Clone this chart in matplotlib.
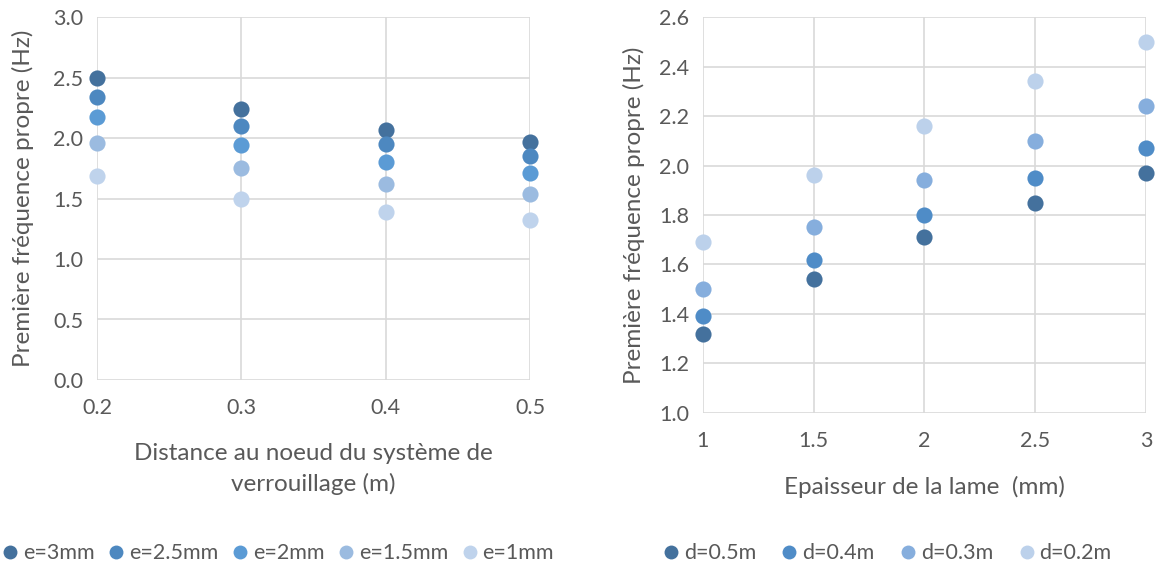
import numpy as np
import matplotlib.pyplot as plt
from matplotlib.lines import Line2D

plt.rcParams['font.family'] = ['Lato', 'DejaVu Sans']

# left chart: frequency vs distance, one series per thickness
dist = [0.2, 0.3, 0.4, 0.5]
e_labels = ['e=3mm', 'e=2.5mm', 'e=2mm', 'e=1.5mm', 'e=1mm']
e_3 = [2.50, 2.24, 2.07, 1.97]
e_25 = [2.34, 2.10, 1.95, 1.85]
e_2 = [2.17, 1.94, 1.80, 1.71]
e_15 = [1.96, 1.75, 1.62, 1.54]
e_1 = [1.69, 1.50, 1.39, 1.32]

# right chart: frequency vs thickness, one series per distance
thick = [1, 1.5, 2, 2.5, 3]
d_labels = ['d=0.5m', 'd=0.4m', 'd=0.3m', 'd=0.2m']
d_05 = [1.32, 1.54, 1.71, 1.85, 1.97]
d_04 = [1.39, 1.62, 1.80, 1.95, 2.07]
d_03 = [1.50, 1.75, 1.94, 2.10, 2.24]
d_02 = [1.69, 1.96, 2.16, 2.34, 2.50]

e_colors = ['#44719d', '#4d88c0', '#5b9bd5', '#9bbbe0', '#bfd3ec']
d_colors = ['#44719d', '#4f8cc7', '#86aedd', '#bcd1eb']

txt = '#595959'
grid = '#d9d9d9'

fig = plt.figure(figsize=(11.58, 5.68), dpi=100)
ax1 = fig.add_axes([0.0838, 0.331, 0.3739, 0.639])
ax2 = fig.add_axes([0.607, 0.273, 0.3826, 0.697])


def style(ax):
    for s in ax.spines.values():
        s.set_visible(False)
    ax.grid(True, color=grid, linewidth=1.2)
    ax.set_axisbelow(True)
    ax.tick_params(length=0, colors=txt, labelsize=15.5)
    ax.tick_params(axis='x', pad=13)
    ax.tick_params(axis='y', pad=10)


for ys, c in zip([e_3, e_25, e_2, e_15, e_1], e_colors):
    ax1.scatter(dist, ys, s=135, color=c, clip_on=False, zorder=3, linewidths=0)
ax1.set_xlim(0.2, 0.5)
ax1.set_ylim(0, 3.0)
ax1.set_xticks(dist)
ax1.set_xticklabels(['0.2', '0.3', '0.4', '0.5'])
ax1.set_yticks(np.arange(0, 3.01, 0.5))
ax1.set_yticklabels([f'{v:.1f}' for v in np.arange(0, 3.01, 0.5)])
style(ax1)
ax1.set_xlabel('Distance au noeud du système de\nverrouillage (m)', color=txt,
               fontsize=17.5, labelpad=18, linespacing=1.5)
ax1.set_ylabel('Première fréquence propre (Hz)', color=txt, fontsize=17.5, labelpad=14)

for ys, c in zip([d_05, d_04, d_03, d_02], d_colors):
    ax2.scatter(thick, ys, s=135, color=c, clip_on=False, zorder=3, linewidths=0)
ax2.set_xlim(1, 3)
ax2.set_ylim(1.0, 2.6)
ax2.set_xticks(thick)
ax2.set_xticklabels(['1', '1.5', '2', '2.5', '3'])
ax2.set_yticks(np.arange(1.0, 2.61, 0.2))
ax2.set_yticklabels([f'{v:.1f}' for v in np.arange(1.0, 2.61, 0.2)])
style(ax2)
ax2.set_xlabel('Epaisseur de la lame  (mm)', color=txt, fontsize=17.5, labelpad=18)
ax2.set_ylabel('Première fréquence propre (Hz)', color=txt, fontsize=17.5, labelpad=10)


def handles(colors):
    return [Line2D([], [], linestyle='none', marker='o', markersize=10,
                   markerfacecolor=c, markeredgewidth=0) for c in colors]


leg_kw = dict(frameon=False, handletextpad=0.1, columnspacing=0.5,
              handlelength=1.0, fontsize=15.5, labelcolor=txt)
fig.legend(handles(e_colors), e_labels, ncol=5, loc='center',
           bbox_to_anchor=(0.239, 0.026), **leg_kw)
leg_kw['columnspacing'] = 1.05
fig.legend(handles(d_colors), d_labels, ncol=4, loc='center',
           bbox_to_anchor=(0.765, 0.026), **leg_kw)

fig.savefig('out.png', dpi=100)
